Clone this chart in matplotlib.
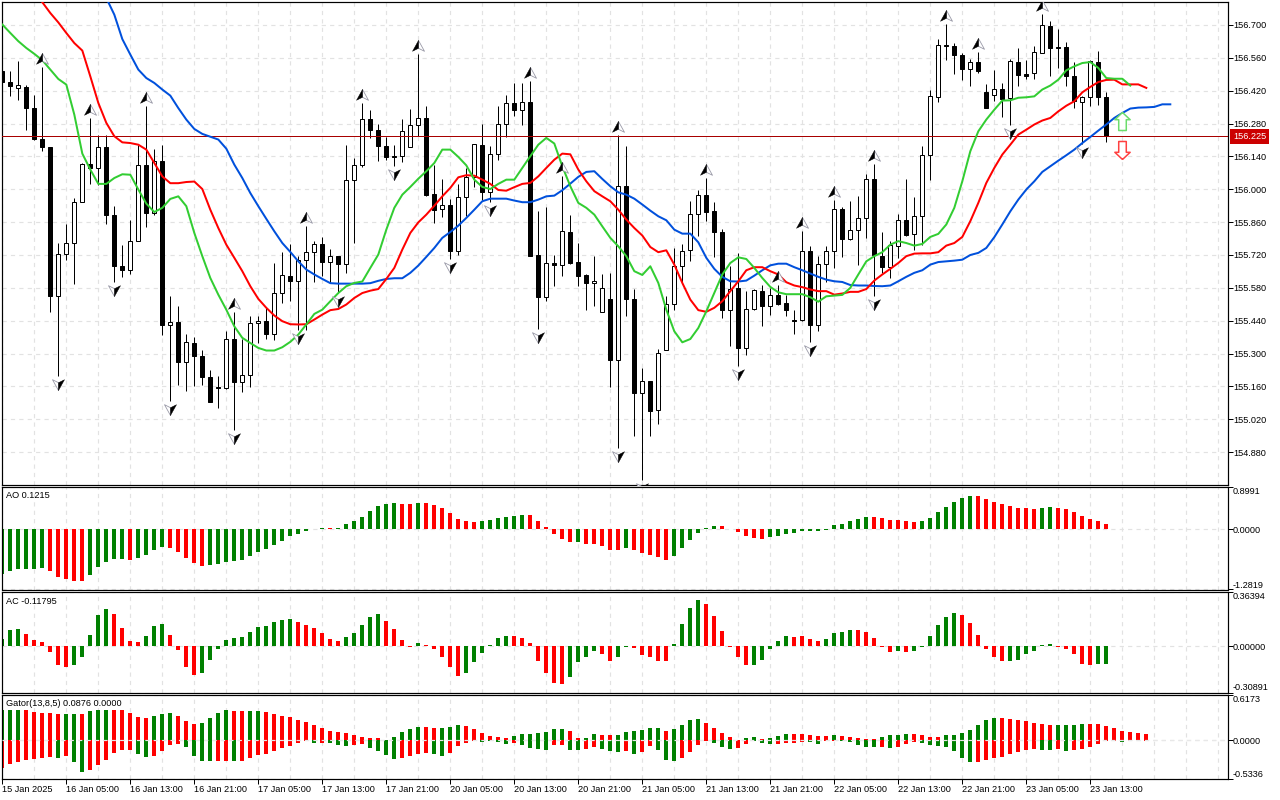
import numpy as np
import matplotlib
matplotlib.use('Agg')
import matplotlib.pyplot as plt
import matplotlib.transforms as mtransforms

plt.rcParams['font.family'] = ['Liberation Sans', 'DejaVu Sans']
plt.rcParams['font.size'] = 6.6

# H1 candles
opens = [156.503,156.459,156.432,156.436,156.346,156.214,156.182,155.546,155.725,155.771,
         155.946,156.109,156.089,156.180,155.891,155.675,155.656,155.779,156.104,155.898,
         156.121,155.422,155.436,155.263,155.343,155.291,155.202,155.158,155.154,155.362,
         155.178,155.208,155.431,155.439,155.382,155.558,155.631,155.608,155.699,155.732,
         155.767,155.689,155.715,155.681,156.040,156.104,156.300,156.253,156.185,156.142,
         156.142,156.180,156.274,156.304,155.980,155.916,155.933,155.736,155.967,156.053,
         156.189,155.987,156.151,156.278,156.369,156.338,156.372,155.720,155.540,155.686,
         155.678,155.818,155.690,155.635,155.601,155.479,155.533,155.272,156.013,155.533,
         155.131,155.185,155.059,155.314,155.512,155.672,155.740,155.895,155.976,155.908,
         155.818,155.485,155.580,155.323,155.490,155.567,155.502,155.551,155.516,155.443,
         155.443,155.737,155.421,155.682,155.737,155.916,155.788,155.827,155.878,156.044,
         155.716,155.669,155.759,155.869,155.810,155.885,156.146,156.392,156.616,156.611,
         156.572,156.511,156.542,156.415,156.402,156.427,156.389,156.542,156.491,156.494,
         156.581,156.696,156.606,156.606,156.483,156.372,156.393,156.542,156.393]
closes = [156.456,156.439,156.443,156.345,156.213,156.179,155.544,155.723,155.770,155.946,
          156.108,156.089,156.180,155.889,155.672,155.655,155.779,156.104,155.898,156.121,
          155.421,155.435,155.263,155.350,155.289,155.199,155.093,155.154,155.362,155.178,
          155.209,155.431,155.439,155.382,155.558,155.635,155.608,155.699,155.732,155.767,
          155.689,155.715,155.681,156.040,156.104,156.300,156.251,156.183,156.136,156.138,
          156.249,156.274,156.304,155.977,155.913,155.932,155.736,155.967,156.053,156.193,
          155.987,156.151,156.278,156.368,156.337,156.372,155.717,155.540,155.686,155.678,
          155.823,155.686,155.629,155.600,155.610,155.580,155.272,156.013,155.533,155.131,
          155.182,155.054,155.303,155.512,155.672,155.737,155.895,155.976,155.902,155.817,
          155.485,155.575,155.323,155.490,155.571,155.502,155.550,155.513,155.485,155.439,
          155.737,155.421,155.682,155.737,155.916,155.788,155.827,155.878,156.044,155.719,
          155.669,155.764,155.869,155.805,155.885,156.146,156.398,156.615,156.611,156.571,
          156.511,156.542,156.503,156.345,156.427,156.386,156.547,156.486,156.484,156.585,
          156.700,156.601,156.601,156.481,156.375,156.393,156.547,156.393,156.225]
highs = [156.510,156.506,156.548,156.446,156.403,156.521,156.182,155.771,155.854,155.963,
         156.112,156.304,156.233,156.233,155.930,155.764,155.871,156.187,156.356,156.173,
         156.190,155.547,155.504,155.385,155.371,155.314,155.232,155.206,155.398,155.477,
         155.360,155.462,155.459,155.494,155.686,155.733,155.767,155.715,155.845,155.780,
         155.797,155.746,155.715,156.190,156.134,156.368,156.339,156.280,156.223,156.190,
         156.300,156.342,156.578,156.356,156.105,156.045,155.959,156.023,156.091,156.193,
         156.280,156.183,156.356,156.403,156.453,156.453,156.463,155.909,155.925,155.722,
         156.055,155.892,155.771,155.641,155.715,155.637,155.644,156.233,156.186,155.577,
         155.239,155.185,155.320,155.547,155.750,155.767,155.952,155.999,156.048,155.946,
         155.831,155.672,155.729,155.568,155.575,155.594,155.578,155.594,155.551,155.487,
         155.824,155.760,155.715,155.760,155.956,155.925,155.952,155.973,156.067,156.109,
         155.820,155.781,155.896,156.045,155.969,156.186,156.422,156.642,156.706,156.623,
         156.581,156.555,156.585,156.450,156.510,156.453,156.555,156.602,156.552,156.612,
         156.748,156.719,156.683,156.628,156.542,156.396,156.552,156.591,156.415]
lows = [156.450,156.396,156.382,156.251,156.209,156.162,155.476,155.203,155.698,155.598,
        155.946,156.024,156.020,155.854,155.604,155.625,155.641,155.779,155.838,155.889,
        155.381,155.097,155.168,155.140,155.161,155.164,155.093,155.067,155.147,154.973,
        155.135,155.157,155.343,155.360,155.357,155.516,155.523,155.402,155.402,155.604,
        155.629,155.601,155.558,155.644,155.769,156.095,156.219,156.119,156.124,156.098,
        156.115,156.180,156.229,155.973,155.857,155.881,155.703,155.722,155.888,156.009,
        155.953,155.945,156.126,156.223,156.311,156.276,155.715,155.405,155.523,155.590,
        155.629,155.683,155.587,155.487,155.504,155.476,155.157,154.898,155.459,154.948,
        154.763,154.948,154.998,155.314,155.487,155.604,155.696,155.800,155.864,155.710,
        155.452,155.331,155.246,155.296,155.487,155.419,155.466,155.509,155.462,155.385,
        155.438,155.348,155.398,155.604,155.665,155.710,155.783,155.676,155.794,155.544,
        155.644,155.622,155.708,155.800,155.740,155.764,156.041,156.371,156.550,156.493,
        156.467,156.439,156.496,156.345,156.375,156.307,156.276,156.442,156.471,156.470,
        156.581,156.481,156.517,156.442,156.346,156.195,156.356,156.361,156.203]
last_price = 156.225

# Alligator, first value belongs to the bar named in the *_start
jaw_start = 12
jaw = [156.865,156.815,156.744,156.640,156.574,156.510,156.474,156.453,156.425,156.399,
       156.346,156.297,156.257,156.236,156.224,156.212,156.173,156.105,156.048,155.984,
       155.928,155.874,155.821,155.771,155.733,155.693,155.658,155.637,155.618,155.600,
       155.598,155.598,155.598,155.598,155.600,155.610,155.618,155.621,155.621,155.644,
       155.675,155.712,155.750,155.793,155.818,155.845,155.878,155.913,155.949,155.960,
       155.960,155.960,155.952,155.945,155.945,155.956,155.970,155.973,155.996,156.024,
       156.053,156.074,156.077,156.044,156.013,155.987,155.977,155.960,155.935,155.909,
       155.885,155.868,155.828,155.811,155.811,155.774,155.708,155.661,155.627,155.608,
       155.607,155.611,155.632,155.655,155.676,155.683,155.683,155.668,155.655,155.641,
       155.627,155.615,155.608,155.605,155.592,155.590,155.590,155.588,155.587,155.590,
       155.608,155.627,155.644,155.655,155.679,155.690,155.693,155.696,155.700,155.720,
       155.729,155.750,155.796,155.850,155.906,155.956,155.999,156.034,156.074,156.098,
       156.122,156.145,156.169,156.197,156.223,156.250,156.276,156.304,156.325,156.344,
       156.348,156.349,156.351,156.362,156.362]
teeth_start = 4
teeth = [156.844,156.797,156.751,156.711,156.666,156.623,156.591,156.481,156.368,156.283,
         156.226,156.200,156.197,156.190,156.169,156.112,156.055,156.026,156.026,156.031,
         156.033,156.001,155.913,155.835,155.764,155.708,155.651,155.587,155.533,155.495,
         155.462,155.438,155.425,155.424,155.425,155.445,155.466,155.485,155.490,155.509,
         155.537,155.558,155.568,155.575,155.618,155.665,155.743,155.814,155.859,155.892,
         155.930,155.970,156.006,156.051,156.060,156.058,156.041,156.023,155.997,155.994,
         156.009,156.023,156.027,156.055,156.091,156.126,156.152,156.149,156.084,156.034,
         155.992,155.970,155.949,155.913,155.871,155.835,155.803,155.754,155.732,155.740,
         155.679,155.601,155.530,155.485,155.478,155.495,155.523,155.566,155.608,155.655,
         155.668,155.668,155.651,155.637,155.604,155.590,155.583,155.573,155.566,155.566,
         155.551,155.556,155.563,155.563,155.575,155.611,155.637,155.661,155.686,155.715,
         155.726,155.727,155.727,155.732,155.760,155.771,155.797,155.864,155.942,156.027,
         156.091,156.148,156.190,156.233,156.254,156.276,156.293,156.304,156.332,156.356,
         156.375,156.413,156.436,156.457,156.466,156.467,156.447,156.447,156.447,156.432]
lips_start = 0
lips = [156.702,156.666,156.631,156.602,156.577,156.550,156.510,156.470,156.446,156.318,
        156.152,156.084,156.023,156.023,156.048,156.064,156.062,155.999,155.939,155.903,
        155.921,155.959,155.970,155.928,155.814,155.715,155.622,155.551,155.487,155.416,
        155.367,155.345,155.324,155.313,155.313,155.327,155.350,155.381,155.424,155.469,
        155.487,155.523,155.558,155.587,155.601,155.607,155.665,155.722,155.828,155.921,
        155.977,156.010,156.045,156.077,156.112,156.169,156.169,156.138,156.102,156.041,
        156.010,156.001,156.023,156.041,156.041,156.091,156.141,156.190,156.219,156.195,
        156.098,156.013,155.942,155.921,155.892,155.842,155.793,155.757,155.715,155.651,
        155.635,155.672,155.601,155.487,155.395,155.348,155.362,155.409,155.480,155.558,
        155.637,155.686,155.710,155.703,155.665,155.622,155.584,155.561,155.553,155.553,
        155.553,155.540,155.521,155.544,155.547,155.550,155.580,155.637,155.693,155.715,
        155.732,155.764,155.779,155.771,155.760,155.767,155.797,155.810,155.850,155.921,
        156.034,156.162,156.247,156.297,156.339,156.378,156.379,156.390,156.392,156.396,
        156.425,156.442,156.467,156.507,156.524,156.538,156.542,156.517,156.474,156.471,
        156.471,156.442]

# fractals (bar numbers)
fractal_up = [5,11,18,29,38,45,52,66,70,77,88,97,100,104,109,118,122,130]
fractal_down = [7,14,21,29,37,42,49,56,61,67,77,80,92,101,109,126,135]

# signal arrows
arrow_bar = 140
arrow_up_price = 156.290
arrow_down_price = 156.166

ao = [-.950,-.893,-.850,-.850,-.850,-.828,-.893,-1.021,-1.064,-1.107,-1.107,-.978,-.807,-.700,-.635,
      -.635,-.657,-.614,-.550,-.443,-.378,-.400,-.486,-.614,-.721,-.785,-.764,-.743,-.700,-.678,
      -.657,-.571,-.486,-.421,-.336,-.250,-.143,-.100,-.036,.014,.036,.036,.029,.107,.171,
      .264,.393,.500,.543,.564,.543,.543,.564,.564,.521,.457,.350,.221,.179,.157,
      .179,.200,.243,.264,.286,.307,.307,.179,.050,-.100,-.207,-.271,-.271,-.314,-.314,
      -.357,-.443,-.443,-.400,-.443,-.507,-.550,-.593,-.657,-.571,-.400,-.228,-.079,.021,.071,
      .071,.007,-.057,-.143,-.186,-.207,-.164,-.143,-.100,-.079,-.029,-.029,-.029,-.007,.093,
      .114,.179,.221,.264,.264,.243,.200,.200,.179,.157,.179,.243,.371,.478,.585,
      .671,.714,.714,.650,.585,.543,.500,.457,.457,.436,.457,.478,.457,.436,.371,
      .286,.221,.179,.1215]
ao_colors = ('g'*6 + 'r'*5 + 'g'*5 + 'r' + 'g'*4 + 'r'*5 + 'g'*15 + 'r' + 'g'*8 + 'r'*2 + 'g'
             + 'r'*7 + 'g'*6 + 'r'*6 + 'g' + 'r'*5 + 'g' + 'r'*5 + 'g'*6 + 'r'*6 + 'g'*13
             + 'r'*6 + 'g'*7 + 'r'*8 + 'g'*2 + 'r'*7)

ac = [.047,.108,.115,.081,.041,.027,-.038,-.128,-.135,-.122,-.068,.074,.209,.250,.216,
      .122,.034,.027,.068,.135,.149,.074,-.027,-.135,-.189,-.176,-.088,-.020,.041,.054,
      .061,.095,.128,.135,.162,.176,.182,.162,.142,.122,.088,.047,.034,.061,.088,
      .142,.196,.216,.169,.115,.041,-.002,.020,.007,-.018,-.072,-.135,-.196,-.176,-.108,
      -.047,.007,.054,.068,.068,.054,.020,-.095,-.176,-.243,-.250,-.203,-.108,-.068,-.034,
      -.054,-.095,-.074,-.005,-.011,-.061,-.074,-.095,-.101,.014,.149,.257,.311,.284,.203,
      .101,-.002,-.074,-.128,-.128,-.088,-.020,.034,.068,.061,.068,.047,.034,.047,.088,
      .095,.108,.108,.095,.054,-.005,-.038,-.034,-.038,-.034,-.002,.068,.142,.196,.223,
      .209,.155,.074,-.020,-.068,-.095,-.095,-.088,-.054,-.034,.007,.014,-.005,-.020,-.054,
      -.115,-.122,-.118,-.118]
ac_colors = ('g'*3 + 'r'*6 + 'g'*5 + 'r'*4 + 'g'*3 + 'r'*4 + 'g'*12 + 'r'*6 + 'g'*5 + 'r'*4
             + 'g' + 'r'*5 + 'g'*6 + 'r'*7 + 'g'*4 + 'r'*2 + 'g'*2 + 'r'*5 + 'g'*4 + 'r'*6
             + 'g'*5 + 'r'*4 + 'g'*4 + 'r'*5 + 'g' + 'r' + 'g'*6 + 'r'*6 + 'g'*6 + 'r'*5 + 'g'*2)

gator_up = [.411,.411,.411,.411,.384,.370,.370,.356,.356,.356,.356,.398,.411,.411,.411,
            .411,.370,.315,.302,.329,.356,.370,.329,.260,.219,.233,.302,.370,.411,.398,
            .398,.398,.398,.384,.356,.329,.315,.274,.247,.206,.165,.123,.110,.096,.069,
            .041,.027,.027,0,.041,.110,.151,.178,.178,.165,.165,.178,.206,.192,.151,
            .096,.055,.041,.027,.055,.082,.082,.096,.110,.151,.151,.123,.027,.027,.082,
            .069,.069,.069,.110,.123,.137,.165,.165,.123,.151,.206,.274,.288,.233,.165,
            .096,.041,.005,.027,.041,.014,.027,.055,.082,.082,.082,.069,.055,.055,.069,
            .055,.041,.027,.014,.014,.041,.069,.069,.082,.082,.069,.041,.041,.069,.069,
            .096,.137,.206,.274,.302,.302,.288,.274,.260,.233,.219,.206,.206,.206,.206,
            .219,.219,.219,.192,.165,.123,.110,.096,.082]
gator_up_colors = ('g'*3 + 'r'*5 + 'g'*2 + 'r' + 'g'*3 + 'r'*5 + 'g'*3 + 'r'*3 + 'g'*4 + 'r'*2
                   + 'g'*2 + 'r'*15 + 'g'*5 + 'r'*2 + 'g'*3 + 'r'*6 + 'g'*7 + 'r'*2 + 'g'*2
                   + 'r'*2 + 'g'*6 + 'r' + 'g'*4 + 'r'*5 + 'g'*2 + 'r' + 'g'*3 + 'r'*5 + 'g'
                   + 'r'*5 + 'g'*4 + 'r'*4 + 'g'*7 + 'r'*7 + 'g'*4 + 'r'*8)
gator_down = [-.388,-.329,-.302,-.274,-.260,-.247,-.233,-.247,-.219,-.302,-.439,-.411,-.343,-.274,-.178,
              -.137,-.137,-.192,-.233,-.219,-.151,-.069,-.055,-.096,-.219,-.288,-.288,-.288,-.288,-.288,
              -.288,-.247,-.206,-.192,-.151,-.110,-.082,-.041,-.014,-.041,-.041,-.041,-.069,-.082,-.069,
              -.055,-.110,-.151,-.206,-.260,-.247,-.219,-.192,-.178,-.192,-.219,-.178,-.082,-.041,-.014,
              -.027,-.014,-.027,-.055,-.041,-.069,-.110,-.123,-.137,-.069,-.069,-.137,-.137,-.123,-.096,
              -.123,-.151,-.165,-.151,-.192,-.165,-.082,-.137,-.274,-.288,-.247,-.165,-.069,-.014,-.041,
              -.096,-.123,-.110,-.055,-.014,-.041,-.055,-.055,-.041,-.041,-.027,-.027,-.055,-.014,-.014,
              -.014,-.027,-.069,-.096,-.096,-.096,-.110,-.096,-.055,-.027,-.041,-.069,-.082,-.096,-.151,
              -.247,-.302,-.302,-.274,-.247,-.233,-.192,-.165,-.137,-.123,-.137,-.137,-.123,-.151,-.137,
              -.123,-.096,-.055,-.014,-.009,-.027,-.009,-.005,-.014]
gator_down_colors = ('r'*7 + 'g' + 'r' + 'g'*2 + 'r'*6 + 'g'*2 + 'r'*4 + 'g'*4 + 'r'*2 + 'g' + 'r'*9
                     + 'g' + 'r' + 'g'*3 + 'r'*2 + 'g'*4 + 'r'*4 + 'g'*2 + 'r'*4 + 'g'*4 + 'r'
                     + 'g'*4 + 'r'*2 + 'g'*2 + 'r'*2 + 'g'*3 + 'r' + 'g' + 'r'*2 + 'g'*3 + 'r'*4
                     + 'g'*3 + 'r'*2 + 'g'*3 + 'r'*4 + 'g'*2 + 'r'*2 + 'g'*5 + 'r' + 'g' + 'r'*3
                     + 'g'*7 + 'r'*8 + 'g'*2 + 'r' + 'g' + 'r'*6 + 'g' + 'r'*3)

price_ticks = [154.88,155.02,155.16,155.30,155.44,155.58,155.72,155.86,156.00,156.14,156.28,156.42,156.56,156.70]
date_labels = ['15 Jan 2025','16 Jan 05:00','16 Jan 13:00','16 Jan 21:00','17 Jan 05:00','17 Jan 13:00',
               '17 Jan 21:00','20 Jan 05:00','20 Jan 13:00','20 Jan 21:00','21 Jan 05:00','21 Jan 13:00',
               '21 Jan 21:00','22 Jan 05:00','22 Jan 13:00','22 Jan 21:00','23 Jan 05:00','23 Jan 13:00']

W, H = 1280, 800
PX = 0.72  # one pixel in points at dpi 100
GREEN, RED = '#008000', '#ff0000'
BAR_COL = {'g': GREEN, 'r': RED}
XMIN, XMAX = -0.04, 153.15


def make_axes(y_top, y_bottom):
    ax = fig.add_axes([2 / W, 1 - y_bottom / H, 1225.5 / W, (y_bottom - y_top) / H])
    ax.set_xlim(XMIN, XMAX)
    ax.yaxis.tick_right()
    ax.set_xticks(np.arange(0, 153, 4))
    ax.tick_params(axis='x', length=0, labelbottom=False)
    ax.tick_params(axis='y', length=5 * PX, width=PX, pad=0.3, labelsize=plt.rcParams['font.size'])
    for s in ax.spines.values():
        s.set_linewidth(PX * 1.2)
    ax.grid(True, color='#e2e2e2', lw=PX * 1.2, ls=(0, (3.5, 3.5)))
    ax.set_axisbelow(True)
    return ax


def indicator_axes(y_top, y_bottom, ymin, ymax, fmt, title):
    ax = make_axes(y_top, y_bottom)
    ax.set_ylim(ymin, ymax)
    ax.set_yticks([ymin, 0, ymax])
    ax.set_yticklabels([fmt % ymin, fmt % 0, fmt % ymax])
    labels = ax.get_yticklabels()
    labels[0].set_va('bottom')
    labels[2].set_va('top')
    ax.text(4 / 1225.5, 1 - 9 / (y_bottom - y_top), title, transform=ax.transAxes, va='center', ha='left')
    return ax


def draw_bars(ax, values, colors):
    xs = np.arange(len(values))
    ax.bar(xs, values, width=0.5, color=[BAR_COL[c] for c in colors], antialiased=False, zorder=2)


fig = plt.figure(figsize=(W / 100, H / 100), dpi=100)

# ---- price panel
ax = make_axes(2, 485)
ax.set_ylim(154.740, 156.798)
ax.set_yticks(price_ticks)
ax.set_yticklabels(['%.3f' % p for p in price_ticks])

bars = np.arange(len(opens))
ax.vlines(bars, lows, highs, color='black', lw=PX, zorder=2)
o = np.array(opens)
c = np.array(closes)
faces = ['white' if c[i] >= o[i] else 'black' for i in bars]
ax.bar(bars, np.abs(c - o), bottom=np.minimum(o, c), width=0.5, color=faces, edgecolor='black',
       linewidth=PX, zorder=3)

ax.axhline(last_price, color='#a80000', lw=PX, zorder=3)
ax.text(1.0045, last_price, '%.3f' % last_price, transform=ax.get_yaxis_transform(), color='white',
        va='center', ha='left', zorder=6,
        bbox=dict(boxstyle='square,pad=0.3', fc='#cc0000', ec='#cc0000', lw=0))

ax.plot(np.arange(jaw_start, jaw_start + len(jaw)), jaw, color='#0050dc', lw=2 * PX, zorder=4)
ax.plot(np.arange(teeth_start, teeth_start + len(teeth)), teeth, color='#ff0000', lw=2 * PX, zorder=4)
ax.plot(np.arange(lips_start, lips_start + len(lips)), lips, color='#32cd32', lw=2 * PX, zorder=4)

# fractal glyphs: half black, half white arrowheads
up_left = [(0, 1), (-1, -0.8), (0, -0.3), (0, 1)]
up_right = [(0, 1), (1, -0.8), (0, -0.3), (0, 1)]
down_left = [(0, -1), (-1, 0.8), (0, 0.3), (0, -1)]
down_right = [(0, -1), (1, 0.8), (0, 0.3), (0, -1)]
up_off = mtransforms.offset_copy(ax.transData, fig=fig, y=8, units='dots')
down_off = mtransforms.offset_copy(ax.transData, fig=fig, y=-8, units='dots')
hi = np.array(highs)[fractal_up]
lo = np.array(lows)[fractal_down]
ms = 12 * PX
ax.plot(fractal_up, hi, ls='', marker=up_right, ms=ms, mfc='white', mec='#9a9aa8', mew=0.6, transform=up_off, zorder=5)
ax.plot(fractal_up, hi, ls='', marker=up_left, ms=ms, mfc='black', mec='black', mew=0.3, transform=up_off, zorder=5)
ax.plot(fractal_down, lo, ls='', marker=down_left, ms=ms, mfc='white', mec='#9a9aa8', mew=0.6, transform=down_off, zorder=5)
ax.plot(fractal_down, lo, ls='', marker=down_right, ms=ms, mfc='black', mec='black', mew=0.3, transform=down_off, zorder=5)

# buy / sell arrows
arrow_up = [(0, 1), (0.85, 0.2), (0.42, 0.2), (0.42, -1), (-0.42, -1), (-0.42, 0.2), (-0.85, 0.2), (0, 1)]
arrow_down = [(x, -y) for x, y in arrow_up]
ax.plot([arrow_bar], [arrow_up_price], marker=arrow_up, ms=18 * PX, mfc='white', mec='#6cdc6c', mew=1.1, ls='', zorder=5)
ax.plot([arrow_bar], [arrow_down_price], marker=arrow_down, ms=18 * PX, mfc='white', mec='#ff4040', mew=1.1, ls='', zorder=5)

# ---- AO / AC / Gator
ax_ao = indicator_axes(487, 589.5, -1.2819, 0.8991, '%.4f', 'AO 0.1215')
draw_bars(ax_ao, ao, ao_colors)

ax_ac = indicator_axes(592, 692.5, -0.30891, 0.36394, '%.5f', 'AC -0.11795')
draw_bars(ax_ac, ac, ac_colors)

ax_gt = indicator_axes(695, 779, -0.5336, 0.6173, '%.4f', 'Gator(13,8,5) 0.0876 0.0000')
draw_bars(ax_gt, gator_up, gator_up_colors)
draw_bars(ax_gt, gator_down, gator_down_colors)
ax_gt.axhline(0, color='#e8e8e8', lw=PX * 1.2, ls=(0, (3.5, 3.5)), zorder=3)

# date axis: a label every 8 bars, grid every 4
major = np.arange(0, 8 * len(date_labels), 8)
ax_gt.set_xticks(major)
ax_gt.set_xticks([b for b in range(4, 153, 4) if b not in major], minor=True)
ax_gt.tick_params(axis='x', which='minor', length=0)
ax_gt.tick_params(axis='x', which='major', length=5 * PX, width=PX, pad=1, labelbottom=True)
ax_gt.set_xticklabels(date_labels)
for t in ax_gt.get_xticklabels():
    t.set_ha('left')
ax_gt.grid(True, which='both', color='#e2e2e2', lw=PX * 1.2, ls=(0, (3.5, 3.5)))

fig.savefig('out.png', dpi=100)
